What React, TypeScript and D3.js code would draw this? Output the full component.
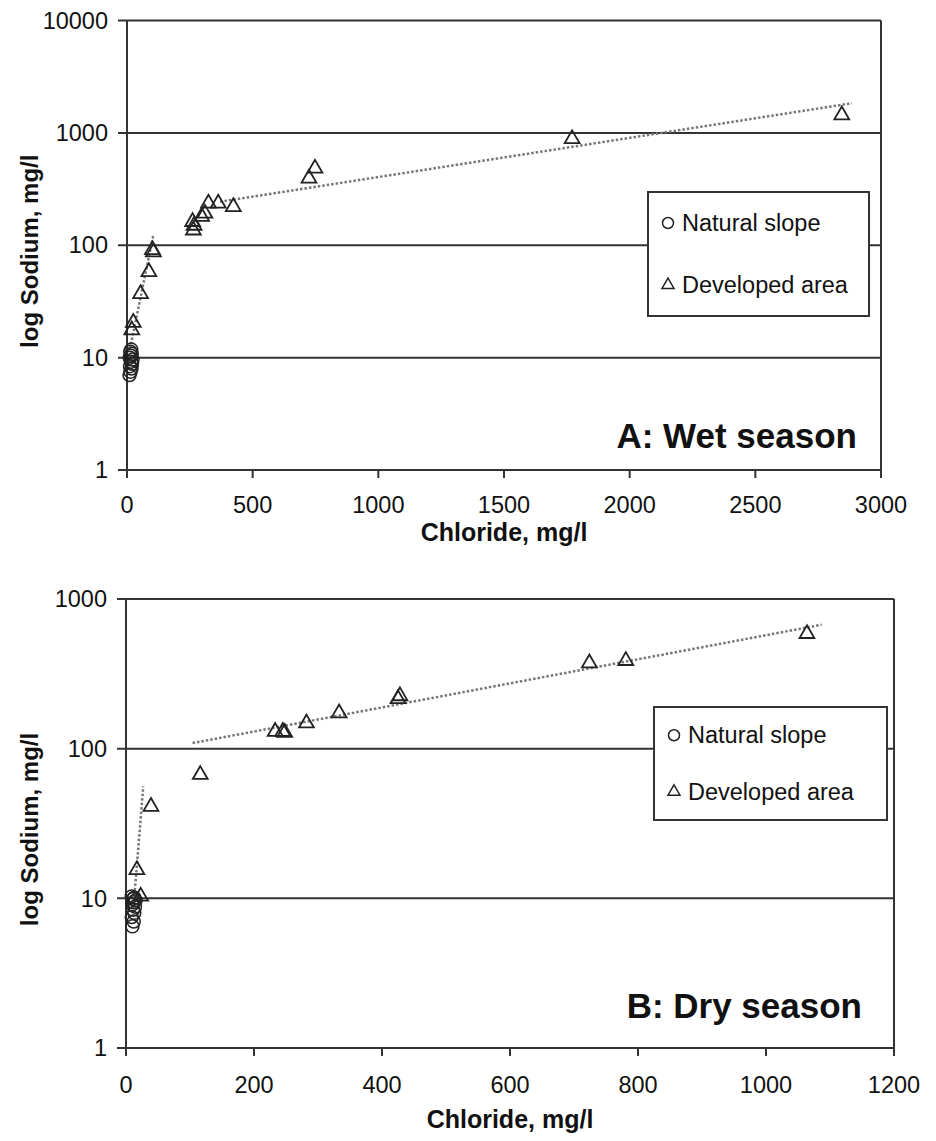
import { scaleLinear, scaleLog, symbol, symbolTriangle } from "d3";

// Wet season (panel A)
const wetNaturalCl = [10, 14, 18, 12, 20, 16, 22, 11, 15, 19, 13, 17];
const wetNaturalNa = [7.0, 7.5, 8.0, 8.4, 8.8, 9.2, 9.6, 10.0, 10.4, 10.8, 11.3, 11.8];
const wetDevCl = [19, 25, 54, 87, 101, 105, 261, 264, 267, 297, 310, 324, 363, 423, 724, 748, 1771, 2844];
const wetDevNa = [17.6, 20.5, 37, 58, 91, 87, 162, 136, 150, 180, 192, 236, 236, 220, 394, 483, 884, 1440];
const wetTrendLowCl = [12, 105];
const wetTrendLowNa = [12, 124];
const wetTrendHighCl = [370, 2884];
const wetTrendHighNa = [244, 1835];

// Dry season (panel B)
const dryNaturalCl = [10, 12, 9, 13, 11, 14, 10, 12, 15, 11, 13, 9];
const dryNaturalNa = [6.5, 7.0, 7.5, 8.0, 8.4, 8.8, 9.1, 9.4, 9.7, 9.9, 10.1, 10.3];
const dryDevCl = [17, 23, 39, 116, 233, 245, 248, 282, 333, 425, 428, 724, 781, 1064];
const dryDevNa = [15.5, 10.3, 41, 67, 130, 130, 128, 148, 173, 215, 225, 373, 387, 586];
const dryTrendLowCl = [11, 27];
const dryTrendLowNa = [8, 56];
const dryTrendHighCl = [104, 1087];
const dryTrendHighNa = [109, 673];

const wetXTicks = [0, 500, 1000, 1500, 2000, 2500, 3000];
const wetYTicks = [1, 10, 100, 1000, 10000];
const dryXTicks = [0, 200, 400, 600, 800, 1000, 1200];
const dryYTicks = [1, 10, 100, 1000];

const legendLabels = ["Natural slope", "Developed area"];

const FONT = "'Liberation Sans', Arial, sans-serif";
const INK = "#333";

const triPath = symbol(symbolTriangle, 95)() as string;
const triLegend = symbol(symbolTriangle, 62)() as string;

type PanelProps = {
  left: number;
  right: number;
  top: number;
  bottom: number;
  xMax: number;
  yMax: number;
  xTicks: number[];
  yTicks: number[];
  natCl: number[];
  natNa: number[];
  devCl: number[];
  devNa: number[];
  trends: [number[], number[]][];
  legend: { x: number; y: number; w: number; h: number };
  title: string;
  titleX: number;
  titleY: number;
  xTitleY: number;
  xLabelY: number;
};

const Panel = (p: PanelProps) => {
  const x = scaleLinear().domain([0, p.xMax]).range([p.left, p.right]);
  const y = scaleLog().domain([1, p.yMax]).range([p.bottom, p.top]);
  const lg = p.legend;
  const row1 = lg.y + lg.h * 0.25;
  const row2 = lg.y + lg.h * 0.75;
  return (
    <g>
      {/* gridlines */}
      {p.yTicks.map((t) => (
        <g key={"y" + t}>
          <line x1={p.left - 9} x2={p.right} y1={y(t)} y2={y(t)} stroke={INK} strokeWidth={2} />
          <text x={p.left - 19} y={y(t)} dy="0.35em" textAnchor="end" fontSize={23.5} fontFamily={FONT} fill="#111">
            {t}
          </text>
        </g>
      ))}
      {p.xTicks.map((t) => (
        <g key={"x" + t}>
          <line x1={x(t)} x2={x(t)} y1={p.bottom} y2={p.bottom + 8} stroke={INK} strokeWidth={2} />
          <text x={x(t)} y={p.xLabelY} dy="0.35em" textAnchor="middle" fontSize={23.5} fontFamily={FONT} fill="#111">
            {t}
          </text>
        </g>
      ))}
      <line x1={p.left} x2={p.left} y1={p.top} y2={p.bottom} stroke={INK} strokeWidth={2} />
      <line x1={p.right} x2={p.right} y1={p.top} y2={p.bottom} stroke={INK} strokeWidth={2} />

      {/* trend lines */}
      {p.trends.map(([cl, na], i) => (
        <line
          key={"t" + i}
          x1={x(cl[0])}
          y1={y(na[0])}
          x2={x(cl[1])}
          y2={y(na[1])}
          stroke="#777"
          strokeWidth={2.5}
          strokeDasharray="2.5 2"
        />
      ))}

      {/* points */}
      {p.natCl.map((c, i) => (
        <circle key={"n" + i} cx={x(c)} cy={y(p.natNa[i])} r={6.5} fill="none" stroke="#222" strokeWidth={1.5} />
      ))}
      {p.devCl.map((c, i) => (
        <path
          key={"d" + i}
          d={triPath}
          transform={`translate(${x(c)},${y(p.devNa[i])})`}
          fill="none"
          stroke="#222"
          strokeWidth={1.8}
        />
      ))}

      {/* legend */}
      <rect x={lg.x} y={lg.y} width={lg.w} height={lg.h} fill="#fff" stroke={INK} strokeWidth={2} />
      <circle cx={lg.x + 20} cy={row1} r={5.5} fill="none" stroke="#222" strokeWidth={1.5} />
      <text x={lg.x + 34} y={row1} dy="0.35em" fontSize={23.5} fontFamily={FONT} fill="#111">
        {legendLabels[0]}
      </text>
      <path d={triLegend} transform={`translate(${lg.x + 20},${row2})`} fill="none" stroke="#222" strokeWidth={1.5} />
      <text x={lg.x + 34} y={row2} dy="0.35em" fontSize={23.5} fontFamily={FONT} fill="#111">
        {legendLabels[1]}
      </text>

      {/* titles */}
      <text x={p.titleX} y={p.titleY} textAnchor="end" fontSize={35} fontWeight="bold" fontFamily={FONT} fill="#111">
        {p.title}
      </text>
      <text
        x={(p.left + p.right) / 2}
        y={p.xTitleY}
        dy="0.35em"
        textAnchor="middle"
        fontSize={25}
        fontWeight="bold"
        fontFamily={FONT}
        fill="#111"
      >
        Chloride, mg/l
      </text>
      <text
        transform={`translate(30,${(p.top + p.bottom) / 2 + 6}) rotate(-90)`}
        dy="0.35em"
        textAnchor="middle"
        fontSize={24}
        fontWeight="bold"
        fontFamily={FONT}
        fill="#111"
      >
        log Sodium, mg/l
      </text>
    </g>
  );
};

export default function App() {
  return (
    <svg width={936} height={1141} style={{ position: "absolute", left: 0, top: 0, background: "#fff" }}>
      <rect width={936} height={1141} fill="#fff" />
      <Panel
        left={127}
        right={881}
        top={20.5}
        bottom={470}
        xMax={3000}
        yMax={10000}
        xTicks={wetXTicks}
        yTicks={wetYTicks}
        natCl={wetNaturalCl}
        natNa={wetNaturalNa}
        devCl={wetDevCl}
        devNa={wetDevNa}
        trends={[
          [wetTrendLowCl, wetTrendLowNa],
          [wetTrendHighCl, wetTrendHighNa],
        ]}
        legend={{ x: 648, y: 192, w: 221, h: 124 }}
        title="A: Wet season"
        titleX={857}
        titleY={448}
        xTitleY={532}
        xLabelY={505}
      />
      <Panel
        left={126}
        right={894}
        top={599}
        bottom={1048}
        xMax={1200}
        yMax={1000}
        xTicks={dryXTicks}
        yTicks={dryYTicks}
        natCl={dryNaturalCl}
        natNa={dryNaturalNa}
        devCl={dryDevCl}
        devNa={dryDevNa}
        trends={[
          [dryTrendLowCl, dryTrendLowNa],
          [dryTrendHighCl, dryTrendHighNa],
        ]}
        legend={{ x: 654, y: 707, w: 233, h: 113 }}
        title="B: Dry season"
        titleX={862}
        titleY={1018}
        xTitleY={1119}
        xLabelY={1085}
      />
    </svg>
  );
}
